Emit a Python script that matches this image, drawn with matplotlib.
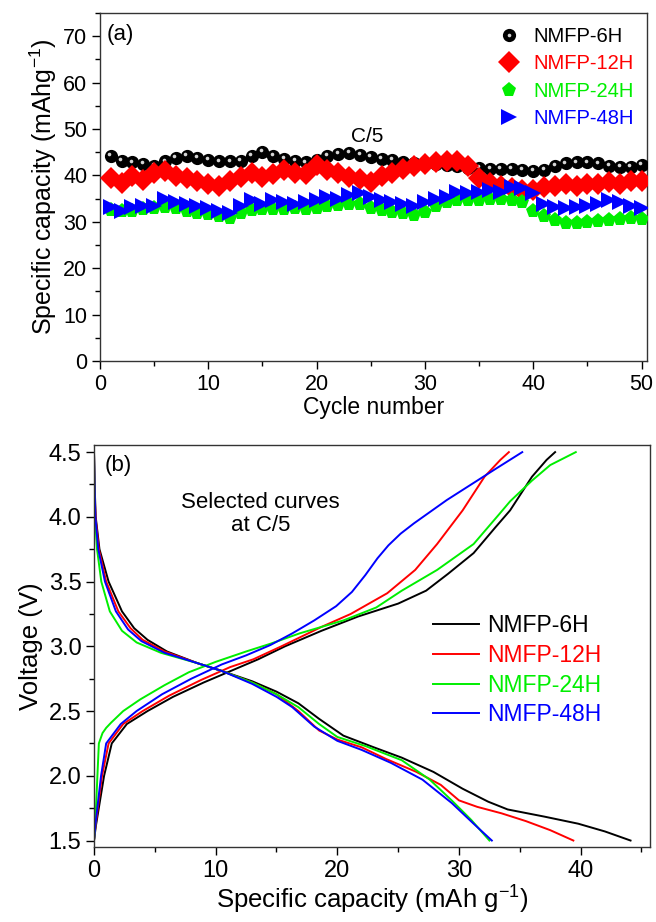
import numpy as np
import matplotlib
matplotlib.use("Agg")
import matplotlib.pyplot as plt
from matplotlib.transforms import ScaledTranslation
from matplotlib.ticker import MultipleLocator, FormatStrFormatter

plt.rcParams['font.family'] = ['Liberation Sans', 'DejaVu Sans']
plt.rcParams['mathtext.default'] = 'regular'

# ---- panel (a): capacity vs cycle ----
cycles = np.arange(1, 51)
cap_6h = [44.2, 43.2, 42.8, 42.4, 42.0, 43.0, 43.8, 44.2, 43.8, 43.4,
          43.0, 43.0, 43.2, 44.2, 45.0, 44.2, 43.6, 43.2, 42.8, 43.4,
          44.2, 44.6, 44.8, 44.4, 44.0, 43.6, 43.4, 42.8, 42.6, 42.6,
          42.4, 42.2, 42.0, 41.6, 41.6, 41.4, 41.4, 41.4, 41.2, 41.0,
          41.2, 42.0, 42.6, 42.8, 42.8, 42.6, 42.0, 41.8, 41.8, 42.2]
cap_12h = [39.5, 38.4, 39.8, 39.0, 40.6, 41.0, 39.8, 39.4, 38.8, 38.2,
           37.8, 38.8, 39.6, 40.6, 39.6, 40.4, 41.2, 40.6, 40.4, 42.2,
           41.2, 40.6, 39.6, 39.2, 38.6, 39.8, 40.6, 41.4, 42.0, 42.4,
           42.8, 43.0, 43.0, 42.0, 39.4, 38.4, 37.8, 37.2, 36.8, 36.8,
           37.4, 37.8, 38.2, 37.8, 38.2, 38.2, 38.6, 38.2, 38.8, 38.8]
cap_24h = [32.6, 32.4, 32.4, 32.8, 33.0, 33.2, 33.0, 32.4, 32.0, 31.6,
           31.2, 30.9, 31.8, 32.6, 32.8, 32.8, 32.8, 33.0, 32.8, 33.0,
           33.4, 33.6, 33.8, 33.8, 33.0, 32.6, 32.2, 31.8, 31.4, 32.2,
           33.4, 34.2, 34.6, 34.6, 34.8, 35.0, 35.0, 34.8, 34.2, 32.4,
           31.2, 30.4, 29.8, 29.8, 30.0, 30.2, 30.4, 30.6, 30.8, 30.6]
cap_48h = [33.2, 32.4, 33.2, 33.5, 33.5, 35.0, 34.3, 33.9, 33.4, 32.9,
           32.4, 32.0, 33.5, 34.6, 33.9, 34.6, 34.3, 33.9, 34.3, 34.6,
           35.4, 35.0, 35.7, 36.1, 35.4, 34.6, 34.3, 33.9, 33.5, 34.3,
           35.0, 35.4, 36.5, 36.1, 36.5, 36.9, 36.5, 37.6, 37.2, 36.1,
           33.9, 33.2, 32.9, 33.2, 33.5, 33.9, 34.6, 34.3, 33.5, 32.9]

# ---- panel (b): voltage profiles (capacity, voltage) ----
dis_6h_q = [0, 0.05, 0.14, 0.45, 1.2, 2.3, 3.3, 4.4, 6.0, 8.5, 10.5, 13, 15, 16.8, 18.5,
            20.5, 23, 25.3, 27.9, 30.3, 32.4, 34, 37, 39.8, 42, 44.1]
dis_6h_v = [4.5, 4.25, 4.0, 3.75, 3.5, 3.27, 3.14, 3.05, 2.96, 2.87, 2.81, 2.73, 2.65, 2.56, 2.44,
            2.31, 2.22, 2.14, 2.03, 1.90, 1.80, 1.74, 1.685, 1.63, 1.57, 1.5]
dis_12h_q = [0, 0.04, 0.12, 0.4, 1.0, 2.0, 3.0, 4.0, 5.8, 8.5, 10.5, 13, 15, 16.8, 18.5,
             20, 22, 24, 26.5, 28.5, 30, 31.5, 33.5, 35.5, 37.5, 39.4]
dis_12h_v = [4.5, 4.25, 4.0, 3.75, 3.5, 3.27, 3.14, 3.05, 2.96, 2.87, 2.81, 2.72, 2.63, 2.5, 2.35,
             2.28, 2.22, 2.13, 2.03, 1.93, 1.81, 1.76, 1.71, 1.65, 1.58, 1.5]
dis_24h_q = [0, 0.03, 0.08, 0.25, 0.6, 1.3, 2.3, 3.5, 5.5, 8.5, 10.5, 13, 15, 16.8, 18.5,
             20, 22.3, 25.3, 27.6, 29.4, 31, 32.5]
dis_24h_v = [4.5, 4.25, 4.0, 3.75, 3.5, 3.27, 3.12, 3.03, 2.95, 2.87, 2.81, 2.72, 2.63, 2.53, 2.4,
             2.3, 2.23, 2.12, 1.97, 1.81, 1.66, 1.5]
dis_48h_q = [0, 0.04, 0.11, 0.35, 0.9, 1.8, 2.8, 3.9, 5.8, 8.5, 10.5, 13, 15, 16.3, 18.1,
             20, 22, 24.4, 27, 29.4, 31.2, 32.7]
dis_48h_v = [4.5, 4.25, 4.0, 3.75, 3.5, 3.27, 3.13, 3.04, 2.95, 2.87, 2.81, 2.71, 2.61, 2.53, 2.38,
             2.27, 2.2, 2.1, 1.97, 1.79, 1.63, 1.5]

chg_6h_q = [0, 0.15, 0.83, 1.46, 2.7, 4.4, 6.5, 9.0, 11.5, 13.5, 15.7, 18.7, 21.7, 25, 27.3,
            29.1, 31.2, 33, 34.2, 36, 37.2, 37.9]
chg_6h_v = [1.5, 1.61, 2.0, 2.25, 2.4, 2.5, 2.61, 2.72, 2.82, 2.9, 3.0, 3.12, 3.23, 3.33, 3.43,
            3.56, 3.72, 3.92, 4.05, 4.31, 4.44, 4.5]
chg_12h_q = [0, 0.12, 0.66, 1.2, 2.4, 4.0, 6.2, 8.8, 11.2, 13.1, 15.4, 18.7, 21.1, 24.1, 26.4,
             28.2, 30.3, 32.1, 33.4, 34.1]
chg_12h_v = [1.5, 1.61, 2.0, 2.25, 2.4, 2.5, 2.62, 2.74, 2.84, 2.9, 3.0, 3.15, 3.25, 3.41, 3.59,
             3.79, 4.05, 4.31, 4.44, 4.5]
chg_24h_q = [0, 0.1, 0.28, 0.4, 0.7, 1.0, 1.4, 2.4, 3.8, 5.8, 7.8, 10.0, 12.5, 14.5, 16.9, 20.5,
             23.2, 25.3, 28.2, 31.2, 33.3, 34.2, 36, 37.5, 39.6]
chg_24h_v = [1.5, 1.61, 2.0, 2.25, 2.33, 2.37, 2.41, 2.5, 2.59, 2.7, 2.8, 2.88, 2.96, 3.02, 3.1, 3.2,
             3.3, 3.43, 3.59, 3.79, 4.02, 4.12, 4.28, 4.4, 4.5]
chg_48h_q = [0, 0.1, 0.58, 1.0, 2.2, 3.5, 5.6, 8.0, 10.5, 12.5, 14.5, 16.3, 18.1, 19.9, 21.2,
             22.3, 23.3, 24.2, 25.2, 26.3, 27.5, 29, 31, 33, 35.2]
chg_48h_v = [1.5, 1.61, 2.0, 2.25, 2.4, 2.5, 2.63, 2.75, 2.86, 2.93, 3.01, 3.1, 3.2, 3.31, 3.42,
             3.55, 3.68, 3.78, 3.87, 3.95, 4.03, 4.13, 4.25, 4.37, 4.5]

labels = ['NMFP-6H', 'NMFP-12H', 'NMFP-24H', 'NMFP-48H']
colors = ['black', '#ff0000', '#00ee00', '#0000ff']

W, H = 656, 922
fig = plt.figure(figsize=(W / 100, H / 100), dpi=100)

def frac_axes(l, r, t, b):
    return fig.add_axes([l / W, 1 - b / H, (r - l) / W, (b - t) / H])

def style(ax, size):
    ax.tick_params(which='both', direction='out', top=False, right=False,
                   labelsize=size, width=1.0, pad=3)
    ax.tick_params(which='major', length=6)
    ax.tick_params(which='minor', length=3.5)
    for s in ax.spines.values():
        s.set_linewidth(1.0)
        s.set_color('#333333')

# panel (a)
ax1 = frac_axes(100, 647, 13, 361)
h6, = ax1.plot(cycles, cap_6h, 'o', color='black', ms=9.5, mew=0, zorder=3)
# small highlight on each ball to mimic the shaded spheres
shine = ax1.transData + ScaledTranslation(-1.0 / 72, 1.3 / 72, fig.dpi_scale_trans)
ax1.plot(cycles, cap_6h, 'o', color='#d5d5d5', ms=2.6, mew=0, transform=shine, zorder=3.1)
hs, = ax1.plot([], [], 'o', color='#d5d5d5', ms=2.6, mew=0)
h12, = ax1.plot(cycles, cap_12h, 'D', color=colors[1], ms=11, mew=0, zorder=4)
h24, = ax1.plot(cycles, cap_24h, 'p', color=colors[2], ms=11, mew=0, zorder=5)
h48, = ax1.plot(cycles, cap_48h, '>', color=colors[3], ms=11, mew=0, zorder=6)
ax1.set_xlim(0, 50.5)
ax1.set_ylim(0, 75)
ax1.xaxis.set_major_locator(MultipleLocator(10))
ax1.xaxis.set_minor_locator(MultipleLocator(5))
ax1.yaxis.set_major_locator(MultipleLocator(10))
ax1.yaxis.set_minor_locator(MultipleLocator(5))
style(ax1, 15.5)
ax1.set_xlabel('Cycle number', fontsize=16.5, labelpad=1)
ax1.set_ylabel('Specific capacity (mAhg$^{-1}$)', fontsize=18, labelpad=3)
ax1.text(0.012, 0.937, '(a)', transform=ax1.transAxes, fontsize=16, va='center', ha='left')
ax1.text(24.7, 48.4, 'C/5', fontsize=15, ha='center', va='center')
leg1 = ax1.legend([(h6, hs), h12, h24, h48], labels, loc='upper left',
                  bbox_to_anchor=(0.726, 0.96), frameon=False, fontsize=14.5,
                  handlelength=1.2, handletextpad=0.6, labelspacing=0.42,
                  borderpad=0, borderaxespad=0)
for t, c in zip(leg1.get_texts(), colors):
    t.set_color(c)

# panel (b)
ax2 = frac_axes(94, 650, 445, 847)
dis = [(dis_6h_q, dis_6h_v), (dis_12h_q, dis_12h_v), (dis_24h_q, dis_24h_v), (dis_48h_q, dis_48h_v)]
chg = [(chg_6h_q, chg_6h_v), (chg_12h_q, chg_12h_v), (chg_24h_q, chg_24h_v), (chg_48h_q, chg_48h_v)]
lines = []
for (dq, dv), (cq, cv), c, lab in zip(dis, chg, colors, labels):
    ln, = ax2.plot(dq, dv, color=c, lw=1.4, label=lab)
    ax2.plot(cq, cv, color=c, lw=1.4)
    lines.append(ln)
ax2.set_xlim(0, 45.7)
ax2.set_ylim(1.45, 4.555)
ax2.xaxis.set_major_locator(MultipleLocator(10))
ax2.xaxis.set_minor_locator(MultipleLocator(5))
ax2.yaxis.set_major_locator(MultipleLocator(0.5))
ax2.yaxis.set_minor_locator(MultipleLocator(0.25))
ax2.yaxis.set_major_formatter(FormatStrFormatter('%.1f'))
style(ax2, 17)
ax2.set_xlabel('Specific capacity (mAh g$^{-1}$)', fontsize=18.5, labelpad=2)
ax2.set_ylabel('Voltage (V)', fontsize=18.5, labelpad=4)
ax2.text(0.02, 0.95, '(b)', transform=ax2.transAxes, fontsize=16, va='center', ha='left')
ax2.text(13.7, 4.02, 'Selected curves\nat C/5', fontsize=16, ha='center', va='center',
         linespacing=1.15)
leg2 = ax2.legend(lines, labels, loc='upper left', bbox_to_anchor=(0.61, 0.58),
                  frameon=False, fontsize=16.5, handlelength=2.0, handletextpad=0.35,
                  labelspacing=0.3, borderpad=0, borderaxespad=0)
for t, c in zip(leg2.get_texts(), colors):
    t.set_color(c)

fig.savefig('out.png', dpi=100)
